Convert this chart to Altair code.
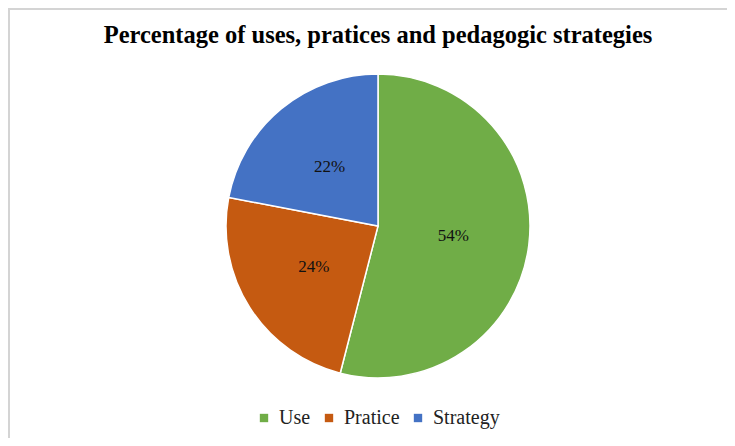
import altair as alt
import pandas as pd

title_text = "Percentage of uses, pratices and pedagogic strategies"
categories = ["Use", "Pratice", "Strategy"]
values = [54, 24, 22]
labels = ["54%", "24%", "22%"]
colors = ["#70AD47", "#C55A11", "#4472C4"]

df = pd.DataFrame({
    "category": categories,
    "value": values,
    "label": labels,
    "order": list(range(len(categories))),
})

W, H = 719, 430
CX, CY = 370, 218
FONT = "Liberation Serif"

base = alt.Chart(df).encode(
    theta=alt.Theta("value:Q", stack=True),
    order=alt.Order("order:Q"),
    color=alt.Color(
        "category:N",
        scale=alt.Scale(domain=categories, range=colors),
        sort=categories,
        legend=alt.Legend(
            title=None,
            orient="none",
            direction="horizontal",
            legendX=246,
            legendY=400,
            symbolType="square",
            symbolSize=70,
            symbolStrokeWidth=0,
            labelFont=FONT,
            labelFontSize=20,
            labelColor="#222222",
            labelOffset=5,
            columnPadding=8,
        ),
    ),
)

arcs = base.mark_arc(outerRadius=152, stroke="white", strokeWidth=1.5).encode(
    x=alt.value(CX), y=alt.value(CY)
)

texts = base.mark_text(radius=76, font=FONT, fontSize=17).encode(
    text="label:N", x=alt.value(CX), y=alt.value(CY), color=alt.value("#111111")
)

title = alt.Chart(pd.DataFrame({"t": [title_text]})).mark_text(
    font=FONT, fontSize=24.5, fontWeight="bold", color="#000000", baseline="alphabetic"
).encode(text="t:N", x=alt.value(370), y=alt.value(35))

frame_df = pd.DataFrame({"a": [0]})
left_rule = alt.Chart(frame_df).mark_rule(color="#d4d4d4", strokeWidth=2).encode(
    x=alt.value(1), y=alt.value(0), y2=alt.value(H)
)
top_rule = alt.Chart(frame_df).mark_rule(color="#d4d4d4", strokeWidth=2).encode(
    y=alt.value(1), x=alt.value(0), x2=alt.value(W)
)

chart = alt.layer(left_rule, top_rule, arcs, texts, title).properties(
    width=W, height=H, autosize=alt.AutoSizeParams(type="none"), padding=0
).configure_view(stroke=None)

chart.save("out.html", embed_options={"renderer": "svg", "actions": False})
